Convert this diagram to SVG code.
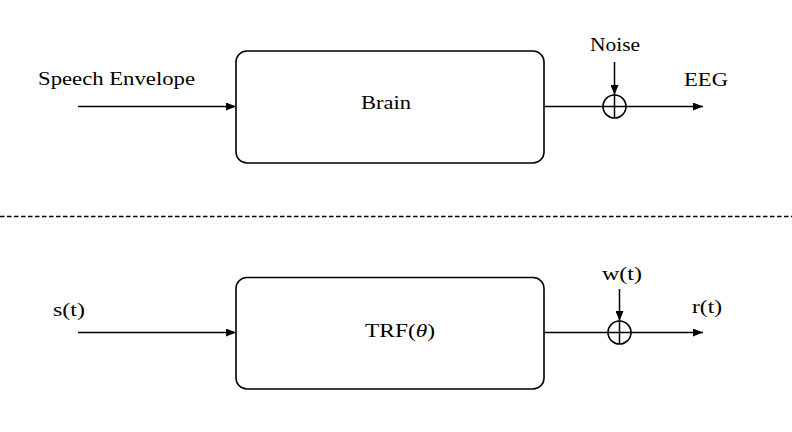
<svg xmlns="http://www.w3.org/2000/svg" width="792" height="432" viewBox="0 0 792 432">
<style>
.t{font-family:"Liberation Serif","DejaVu Serif",serif;font-size:18px;fill:#000}
.box{fill:#fff;stroke:#000;stroke-width:1.6}
.ln{fill:none;stroke:#000;stroke-width:1.5}
.sum{fill:none;stroke:#000;stroke-width:1.6}
</style>
<defs>
<marker id="ah" viewBox="0 0 10 8" refX="10" refY="4" markerWidth="10" markerHeight="8" markerUnits="userSpaceOnUse" orient="auto">
<path d="M0,0 L10,4 L0,8 Z" fill="#000"/>
</marker>
</defs>
<rect width="792" height="432" fill="#fff"/>
<g id="connectors">
<line class="ln" x1="78" y1="106.5" x2="236" y2="106.5" marker-end="url(#ah)"/>
<line class="ln" x1="544" y1="106.5" x2="703" y2="106.5" marker-end="url(#ah)"/>
<line class="ln" x1="614.5" y1="62" x2="614.5" y2="95" marker-end="url(#ah)"/>
<line class="ln" x1="78" y1="332.5" x2="236" y2="332.5" marker-end="url(#ah)"/>
<line class="ln" x1="544" y1="332.5" x2="703" y2="332.5" marker-end="url(#ah)"/>
<line class="ln" x1="619.5" y1="289" x2="619.5" y2="321" marker-end="url(#ah)"/>
<line x1="0" y1="216.5" x2="792" y2="216.5" stroke="#000" stroke-width="1.3" stroke-dasharray="4.5,2.5"/>
</g>
<g id="brain">
<rect class="box" x="236" y="51" width="308" height="112" rx="11"/>
<text class="t" x="361" y="109" textLength="50" lengthAdjust="spacingAndGlyphs">Brain</text>
</g>
<g id="sum1">
<circle class="sum" cx="614.5" cy="106.5" r="11.5"/>
<line class="ln" x1="614.5" y1="95" x2="614.5" y2="118"/>
</g>
<g id="trf">
<rect class="box" x="236" y="277.5" width="308" height="111.5" rx="11"/>
<text class="t" x="365" y="337" textLength="70" lengthAdjust="spacingAndGlyphs">TRF(<tspan font-style="italic">θ</tspan>)</text>
</g>
<g id="sum2">
<circle class="sum" cx="619.5" cy="332.5" r="11.5"/>
<line class="ln" x1="619.5" y1="321" x2="619.5" y2="344"/>
</g>
<g id="labels">
<text class="t" x="38" y="85" textLength="157" lengthAdjust="spacingAndGlyphs">Speech Envelope</text>
<text class="t" x="590" y="51" textLength="50" lengthAdjust="spacingAndGlyphs">Noise</text>
<text class="t" x="684" y="86" textLength="44" lengthAdjust="spacingAndGlyphs">EEG</text>
<text class="t" x="53" y="316" textLength="32" lengthAdjust="spacingAndGlyphs">s(t)</text>
<text class="t" x="602" y="280" textLength="40" lengthAdjust="spacingAndGlyphs">w(t)</text>
<text class="t" x="692" y="313" textLength="30" lengthAdjust="spacingAndGlyphs">r(t)</text>
</g>
</svg>
